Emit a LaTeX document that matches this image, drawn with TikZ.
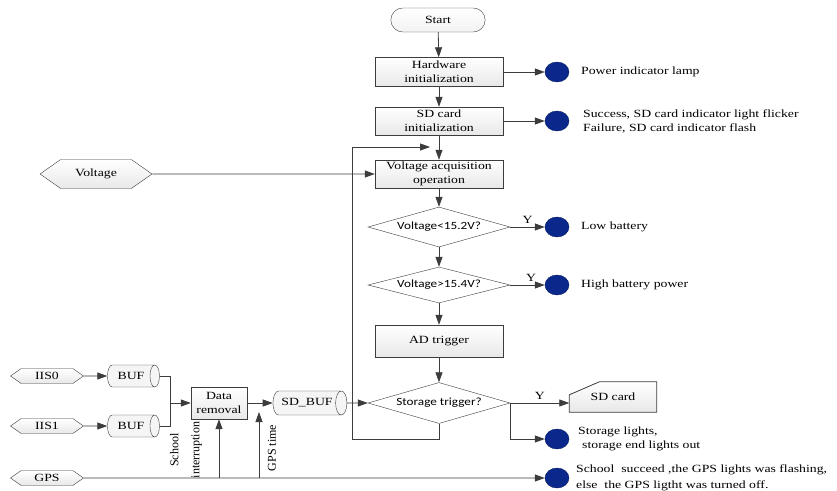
\documentclass[tikz,border=0pt]{standalone}
\usepackage{fontspec}
\setmainfont[FakeStretch=1.25]{Liberation Serif}
\newfontfamily\plainfont{Liberation Serif}
\newfontfamily\diafont[FakeStretch=1.2]{Carlito}
\usetikzlibrary{shapes.geometric,shapes.misc,shapes.symbols,arrows.meta,positioning,backgrounds}
\definecolor{lampblue}{RGB}{10,40,140}
\definecolor{linegray}{RGB}{60,60,60}
\begin{document}
\begin{tikzpicture}[x=1pt,y=-1pt]
		\tikzset{myfont/.style={font=\fontsize{11}{14}\selectfont},
			procbox/.style={myfont,draw=linegray,top color=white,bottom color=gray!18,align=center,minimum width=128pt,minimum height=29pt,inner sep=1pt},
			decbox/.style={diamond,aspect=3.5,draw=linegray,fill=white,font=\diafont\fontsize{11}{13}\selectfont,minimum width=142pt,minimum height=40pt,inner sep=0pt},
			lamp/.style={ellipse,fill=lampblue,draw=lampblue!70!black,minimum width=24pt,minimum height=20pt,inner sep=0pt},
			lamptext/.style={myfont,anchor=west,align=left,inner sep=0pt},
			inbox/.style={signal,signal to=west and east,signal pointer angle=70,draw=linegray,top color=white,bottom color=gray!18,myfont,inner sep=0pt},
			bufbox/.style={cylinder,aspect=1.3,draw=linegray,fill=gray!8,myfont,inner sep=0pt},
			sidefont/.style={font=\plainfont\fontsize{12}{21}\selectfont},
			arr/.style={draw=linegray,line width=0.8pt,-{Triangle[length=10pt,width=7pt]}},
			ln/.style={draw=linegray,line width=0.8pt}}
		\useasboundingbox (0,0) rectangle (837,490);
		%Main flow
		\node[myfont,rounded rectangle,draw=linegray,top color=white,bottom color=gray!10,minimum width=101pt,minimum height=24pt] (start) at (438,20) {Start};
		\node[procbox] (hw) at (439,72) {Hardware\\initialization};
		\node[procbox,minimum height=28pt] (sdi) at (439,121) {SD card\\initialization};
		\node[procbox,minimum height=28pt] (vacq) at (439,174) {Voltage acquisition\\operation};
		\node[decbox] (d1) at (439,227) {Voltage<15.2V?};
		\node[decbox,minimum height=36pt] (d2) at (439,285) {Voltage>15.4V?};
		\node[procbox,minimum height=32pt] (ad) at (439,341) {AD trigger};
		\node[decbox,minimum height=41pt] (st) at (439,403) {Storage trigger?};
		\node[myfont,minimum width=87pt,minimum height=30pt] (sdc) at (613,397) {SD card};
		\begin{scope}[on background layer]
			\draw[ln,top color=white,bottom color=gray!18] ([yshift=-13pt]sdc.north west) -- ([xshift=30pt]sdc.north west) -- (sdc.north east) -- (sdc.south east) -- (sdc.south west) -- cycle;
		\end{scope}
		%Lamps
		\node[lamp] (l1) at (557,72) {};
		\node[lamp] (l2) at (557,121) {};
		\node[lamp] (l3) at (557,227) {};
		\node[lamp] (l4) at (557,285) {};
		\node[lamp] (l5) at (557,439) {};
		\node[lamp] (l6) at (557,478) {};
		\node[lamptext] (t1) at (581,72) {Power indicator lamp};
		\node[lamptext] (t2) at (583,121) {Success, SD card indicator light flicker\\Failure, SD card indicator flash};
		\node[lamptext] (t3) at (581,227) {Low battery};
		\node[lamptext] (t4) at (581,285) {High battery power};
		\node[lamptext] (t5) at (578,439) {Storage lights,\\\hspace{4pt}storage end lights out};
		\node[lamptext] (t6) at (576,478) {School\ \ succeed ,the GPS lights was flashing,\\[2pt]else\ \ the GPS ligtht was turned off.};
		%Inputs
		\node[inbox,minimum width=112pt,minimum height=29pt] (volt) at (96,174) {Voltage};
		\node[inbox,minimum width=73pt,minimum height=15pt] (iis0) at (47,376) {IIS0};
		\node[inbox,minimum width=73pt,minimum height=15pt] (iis1) at (47,426) {IIS1};
		\node[inbox,minimum width=73pt,minimum height=15pt] (gps) at (47,478) {GPS};
		\node[bufbox,minimum width=22pt,minimum height=52pt] (buf0) at (131,376) {BUF};
		\node[bufbox,minimum width=22pt,minimum height=52pt] (buf1) at (131,426) {BUF};
		\node[procbox,minimum width=56pt,minimum height=32pt] (drem) at (219,403) {Data\\removal};
		\node[bufbox,minimum width=24pt,minimum height=74pt] (sdbuf) at (307,403) {SD\_BUF};
		\node[sidefont,rotate=90,align=center] (schint) at (186,450) {School\\interruption};
		\node[sidefont,rotate=90] (gpst) at (272,448) {GPS time};
		\coordinate (mrg) at (170,403);
		\coordinate (gt) at (259,412);
		\coordinate (lpb) at (352,439);
		\coordinate (lpe) at (430,147);
		%Connectors
		\draw[arr] (start) -- (hw);
		\draw[arr] (hw) -- (sdi);
		\draw[arr] (sdi) -- (vacq);
		\draw[arr] (vacq) -- (d1);
		\draw[arr] (d1) -- (d2);
		\draw[arr] (d2) -- (ad);
		\draw[arr] (ad) -- (st);
		\draw[arr] (hw) -- (l1);
		\draw[arr] (sdi) -- (l2);
		\draw[arr] (volt) -- (vacq);
		\draw[arr] (d1) -- node[myfont,above] {Y} (l3);
		\draw[arr] (d2) -- node[myfont,above,pos=0.6] {Y} (l4);
		\draw[arr] (st.east) -- node[myfont,above] {Y} (st.east -| sdc.west);
		\draw[arr] (st.east) |- (l5);
		\draw[arr] (st.south) |- (lpb) |- (lpe);
		\draw[arr] (iis0) -- (buf0);
		\draw[arr] (iis1) -- (buf1);
		\draw[ln] (buf0) -| (mrg);
		\draw[ln] (buf1) -| (mrg);
		\draw[arr] (mrg) -- (drem);
		\draw[arr] (drem) -- (sdbuf);
		\draw[arr] (sdbuf) -- (st);
		\draw[arr] (gps) -- (l6);
		\draw[arr] (drem.south |- gps.east) -- (drem.south);
		\draw[arr] (gt |- gps.east) -- (gt);
	\end{tikzpicture}
\end{document}
